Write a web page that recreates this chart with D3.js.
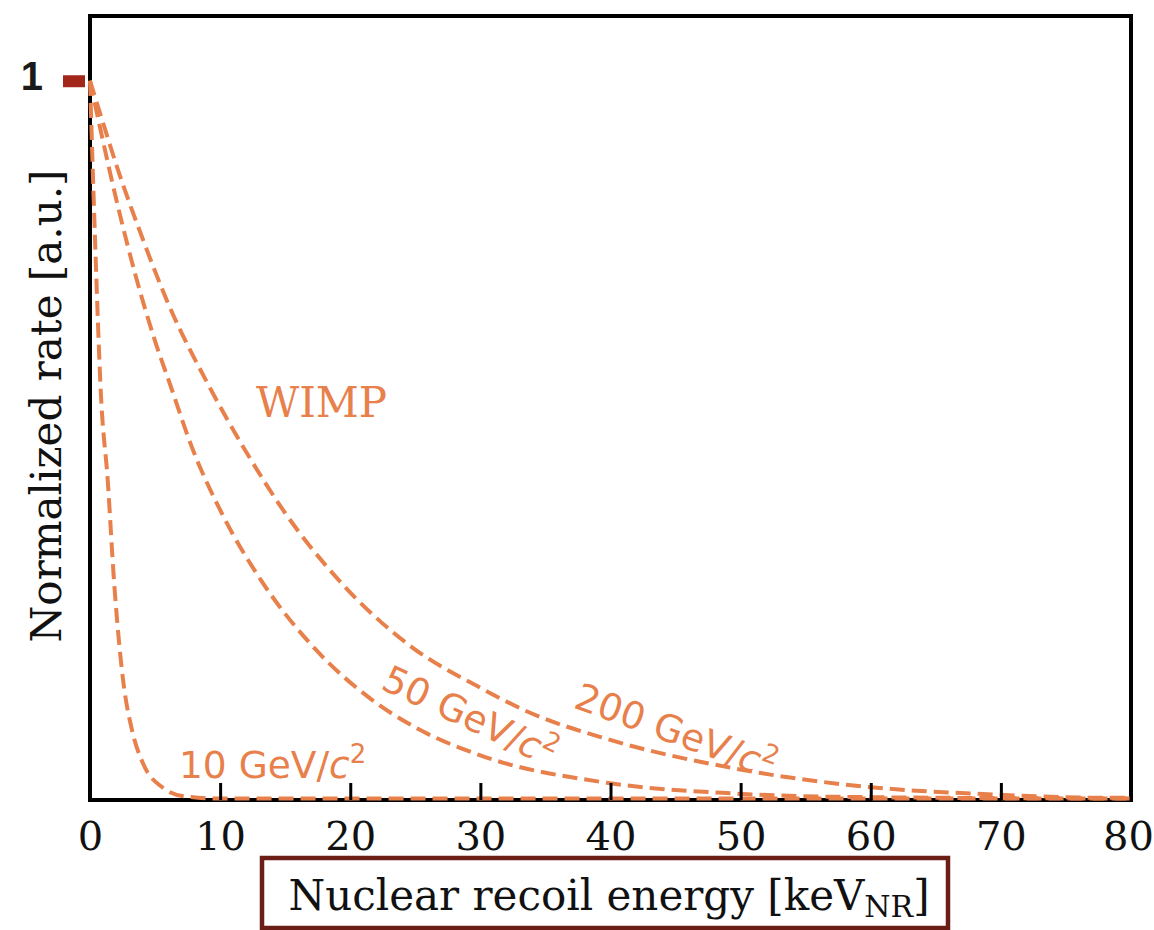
<!DOCTYPE html>
<html>
<head>
<meta charset="utf-8">
<script src="https://cdn.jsdelivr.net/npm/d3@7"></script>
<style>
  html, body { margin: 0; padding: 0; background: #ffffff; }
  svg { display: block; }
</style>
</head>
<body>
<svg id="chart" width="1154" height="930"></svg>
<script>
// Recoil energies [keV_NR] and normalized rates for three WIMP masses
const energy10  = [0, 0.38, 0.85, 1.36, 1.84, 2.54, 3.23, 4.07, 5.53, 7.3, 10, 20, 40, 60, 80];
const rate10    = [1, 0.783, 0.56, 0.445, 0.306, 0.167, 0.097, 0.051, 0.018, 0.005, 0.002, 0.002, 0.002, 0.002, 0.002];

const energy50  = [0, 0.77, 2.15, 3.46, 5.0, 6.15, 7.82, 10.12, 13.2, 17.3, 21.4, 25.2, 30.0, 39.7, 49.5, 59.3, 80];
const rate50    = [1, 0.935, 0.825, 0.732, 0.638, 0.578, 0.491, 0.399, 0.304, 0.210, 0.143, 0.099, 0.062, 0.024, 0.009, 0.004, 0.002];

const energy200 = [0, 0.77, 2.15, 3.99, 5.99, 9.07, 11.9, 15.0, 19.1, 24.7, 30.0, 33.6, 39.7, 49.5, 59.3, 69.0, 78.7, 80];
const rate200   = [1, 0.955, 0.876, 0.783, 0.691, 0.578, 0.487, 0.399, 0.306, 0.213, 0.156, 0.123, 0.085, 0.044, 0.019, 0.008, 0.003, 0.003];

const xTicks = [0, 10, 20, 30, 40, 50, 60, 70, 80];
const yTicks = [1];

const seriesNames = ["10 GeV/c²", "50 GeV/c²", "200 GeV/c²"];

const orange = "#e8804c";
const frameLeft = 90, frameTop = 16, frameRight = 1131, frameBottom = 800;

const svg = d3.select("#chart");

const x = d3.scaleLinear().domain([0, 80]).range([frameLeft, frameRight]);
const y = d3.scaleLinear().domain([0, 1.09]).range([frameBottom, frameTop]);

// Plot frame
svg.append("rect")
  .attr("x", frameLeft).attr("y", frameTop)
  .attr("width", frameRight - frameLeft).attr("height", frameBottom - frameTop)
  .attr("fill", "none").attr("stroke", "#000").attr("stroke-width", 4);

// Spectra
const series = [
  { name: seriesNames[0], e: energy10, r: rate10 },
  { name: seriesNames[1], e: energy50, r: rate50 },
  { name: seriesNames[2], e: energy200, r: rate200 }
];
const line = d3.line()
  .x(d => x(d[0]))
  .y(d => y(d[1]))
  .curve(d3.curveMonotoneX);

svg.append("g").selectAll("path")
  .data(series)
  .join("path")
  .attr("d", s => line(s.e.map((e, i) => [e, s.r[i]])))
  .attr("fill", "none")
  .attr("stroke", orange)
  .attr("stroke-width", 4)
  .attr("stroke-dasharray", "15,7");

// Bottom axis: inward ticks
const xAxis = svg.append("g")
  .attr("transform", `translate(0,${frameBottom})`)
  .call(d3.axisBottom(x).tickValues(xTicks).tickSizeInner(-17).tickSizeOuter(0).tickPadding(22).tickFormat(d3.format("d")));
xAxis.select(".domain").remove();
xAxis.selectAll(".tick line").attr("stroke", "#000").attr("stroke-width", 3);
xAxis.selectAll(".tick text")
  .attr("fill", "#111")
  .style("font-family", "'DejaVu Serif', serif")
  .style("font-size", "40px");
xAxis.selectAll(".tick:last-of-type text").attr("dx", -3);

// Left axis: single marker at rate 1
const yAxis = svg.append("g")
  .attr("transform", `translate(${frameLeft},0)`)
  .call(d3.axisLeft(y).tickValues(yTicks).tickSize(27).tickPadding(21).tickFormat(d3.format("d")));
yAxis.select(".domain").remove();
yAxis.selectAll(".tick line")
  .attr("x1", -5).attr("x2", -27)
  .attr("stroke", "#a3261b").attr("stroke-width", 12);
yAxis.selectAll(".tick text")
  .attr("x", -47)
  .attr("dy", "0.22em")
  .attr("fill", "#1a1a1a")
  .style("font-family", "'Liberation Sans', Arial, sans-serif")
  .style("font-weight", "bold")
  .style("font-size", "40px");

// Axis titles
svg.append("text")
  .attr("transform", "translate(61,406) rotate(-90)")
  .attr("text-anchor", "middle")
  .attr("fill", "#111")
  .style("font-family", "'DejaVu Serif', serif")
  .style("font-size", "42px")
  .text("Normalized rate [a.u.]");

svg.append("rect")
  .attr("x", 262).attr("y", 858).attr("width", 686).attr("height", 70)
  .attr("fill", "none").attr("stroke", "#6b1e16").attr("stroke-width", 4.5);

const xTitle = svg.append("text")
  .attr("x", 609).attr("y", 910)
  .attr("text-anchor", "middle")
  .attr("fill", "#111")
  .style("font-family", "'DejaVu Serif', serif")
  .style("font-size", "42px");
xTitle.append("tspan").text("Nuclear recoil energy [keV");
xTitle.append("tspan").attr("dy", 7).style("font-size", "30px").text("NR");
xTitle.append("tspan").attr("dy", -7).text("]");

// Series annotations
svg.append("text")
  .attr("x", 256).attr("y", 417)
  .attr("fill", orange)
  .style("font-family", "'DejaVu Serif', serif")
  .style("font-size", "42px")
  .text("WIMP");

function massLabel(sel, label) {
  const [mass, rest] = label.split(" GeV/c");
  sel.style("font-family", "'DejaVu Sans', sans-serif")
    .style("font-size", "37.5px")
    .attr("fill", orange);
  sel.append("tspan").text(mass + " GeV/");
  sel.append("tspan").style("font-style", "italic").text("c");
  sel.append("tspan").attr("dy", -15).style("font-size", "26px").text(rest === "²" ? "2" : rest);
}

svg.append("text")
  .attr("x", 179).attr("y", 778)
  .call(massLabel, seriesNames[0]);

svg.append("text")
  .attr("transform", "translate(470,716) rotate(25)")
  .attr("text-anchor", "middle")
  .attr("dy", "0.35em")
  .call(massLabel, seriesNames[1]);

svg.append("text")
  .attr("transform", "translate(676,731) rotate(20)")
  .attr("text-anchor", "middle")
  .attr("dy", "0.35em")
  .call(massLabel, seriesNames[2]);
</script>
</body>
</html>
